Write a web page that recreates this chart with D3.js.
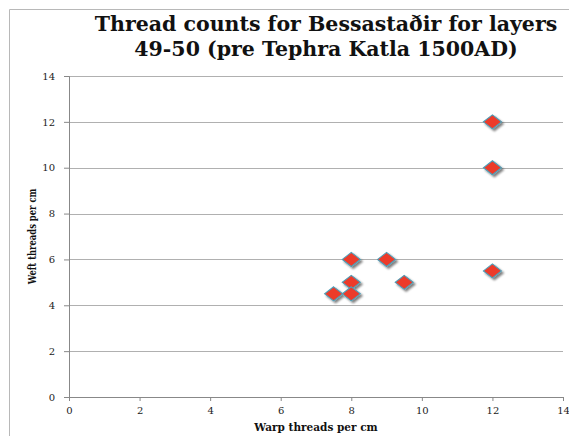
<!DOCTYPE html>
<meta charset="utf-8">
<style>
body { margin: 0; background: #fff; }
.tick text { font-family: "DejaVu Serif", serif; font-size: 10px; fill: #222; }
.axis-title { font-family: "DejaVu Serif", serif; font-weight: bold; font-size: 10.5px; fill: #111; }
</style>
<body>
<script src="https://d3js.org/d3.v7.min.js"></script>
<script>

var warp = [12, 12, 12, 8, 9, 9.5, 8, 8, 7.5];
var weft = [12, 10, 5.5, 6, 6, 5, 5, 4.5, 4.5];
var xTicks = [0, 2, 4, 6, 8, 10, 12, 14];
var yTicks = [0, 2, 4, 6, 8, 10, 12, 14];
var titleLines = ["Thread counts for Bessastaðir for layers", "49-50 (pre Tephra Katla 1500AD)"];

var W = 569, H = 436;
var margin = {top: 76, right: 6, bottom: 39, left: 69},
    width = W - margin.left - margin.right,
    height = H - margin.top - margin.bottom;

var svg = d3.select("body").append("svg")
    .attr("width", W)
    .attr("height", H);

// outer chart frame
svg.append("path")
    .attr("d", "M9.5," + H + "V9.5H" + W)
    .attr("fill", "none")
    .attr("stroke", "#b8b8b8");

var defs = svg.append("defs");
var f = defs.append("filter").attr("id", "shadow")
    .attr("x", "-50%").attr("y", "-50%").attr("width", "200%").attr("height", "200%");
f.append("feGaussianBlur").attr("in", "SourceAlpha").attr("stdDeviation", 1.2).attr("result", "b");
f.append("feOffset").attr("in", "b").attr("dx", 1.5).attr("dy", 2).attr("result", "o");
f.append("feComponentTransfer").attr("in", "o").attr("result", "s")
  .append("feFuncA").attr("type", "linear").attr("slope", 0.5);
var m = f.append("feMerge");
m.append("feMergeNode").attr("in", "s");
m.append("feMergeNode").attr("in", "SourceGraphic");

var title = svg.append("text")
    .attr("text-anchor", "middle")
    .style("font-family", "'DejaVu Serif', serif")
    .style("font-weight", "bold")
    .style("font-size", "20.5px")
    .attr("fill", "#111");
titleLines.forEach(function(t, i) {
    title.append("tspan").attr("x", 326).attr("y", 31 + i * 25).text(t);
});

var g = svg.append("g")
    .attr("transform", "translate(" + margin.left + "," + margin.top + ")");

var x = d3.scaleLinear().domain([0, 14]).range([0, width]);
var y = d3.scaleLinear().domain([0, 14]).range([height, 0]);

// gridlines
g.append("g")
    .selectAll("line")
    .data(yTicks.slice(1))
    .enter().append("line")
    .attr("x1", 0).attr("x2", width)
    .attr("y1", function(d) { return Math.round(y(d)) + 0.5; })
    .attr("y2", function(d) { return Math.round(y(d)) + 0.5; })
    .attr("stroke", "#b0b0b0");

var gx = g.append("g")
    .attr("transform", "translate(0," + height + ")")
    .call(d3.axisBottom(x).tickValues(xTicks).tickSize(4).tickPadding(6));
var gy = g.append("g")
    .call(d3.axisLeft(y).tickValues(yTicks).tickSize(5).tickPadding(9));
[gx, gy].forEach(function(a) {
    a.select(".domain").attr("stroke", "#888");
    a.selectAll(".tick line").attr("stroke", "#888");
});

svg.append("text")
    .attr("class", "axis-title")
    .attr("text-anchor", "middle")
    .attr("x", 316).attr("y", 431)
    .text("Warp threads per cm");

svg.append("text")
    .attr("class", "axis-title")
    .attr("text-anchor", "middle")
    .attr("transform", "translate(36," + (margin.top + height / 2) + ") rotate(-90) scale(0.8,1)")
    .text("Weft threads per cm");

var pts = warp.map(function(d, i) { return {x: d, y: weft[i]}; });
g.append("g")
    .attr("filter", "url(#shadow)")
    .selectAll("path")
    .data(pts)
    .enter().append("path")
    .attr("transform", function(d) { return "translate(" + x(d.x) + "," + y(d.y) + ")"; })
    .attr("d", "M0,-7L9,0L0,7L-9,0Z")
    .attr("fill", "#ec3a2c")
    .attr("stroke", "#4e9fb8")
    .attr("stroke-width", 1.1);

</script>
</body>
